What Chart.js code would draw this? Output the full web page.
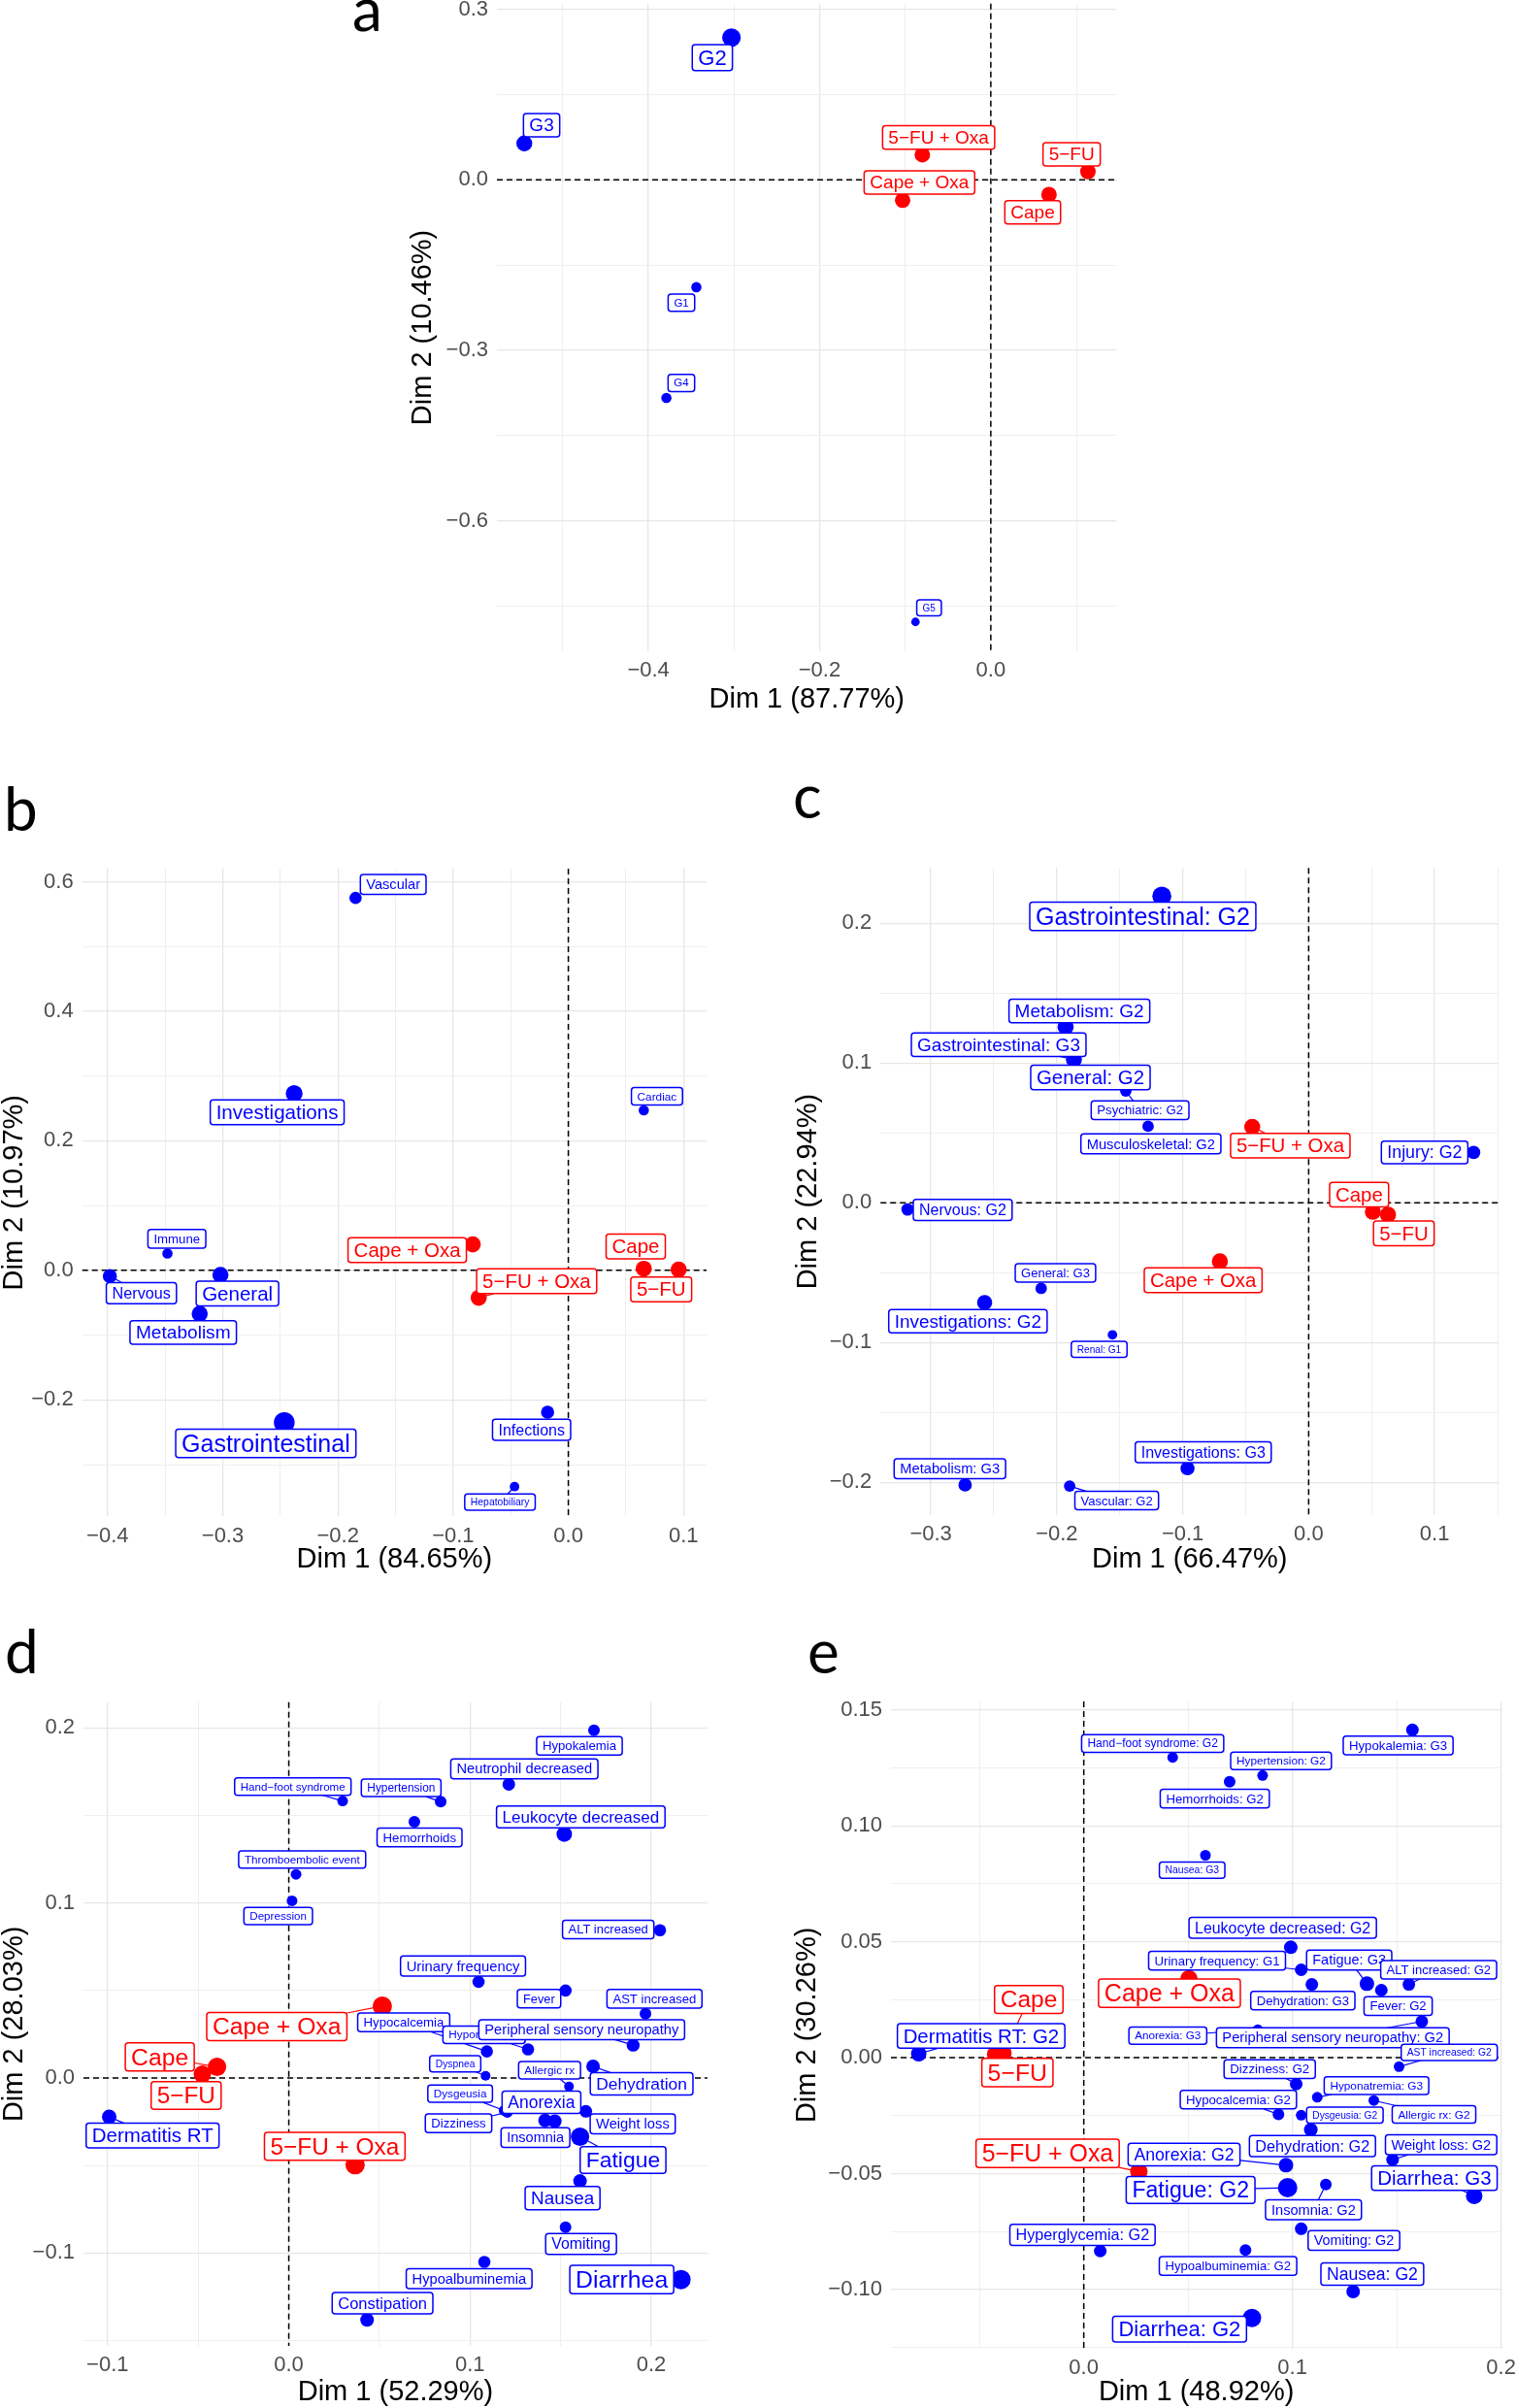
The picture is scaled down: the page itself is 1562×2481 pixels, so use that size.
<!DOCTYPE html>
<html>
<head>
<meta charset="utf-8">
<title>CA biplots</title>
<script src="https://cdn.jsdelivr.net/npm/chart.js@4.4.1/dist/chart.umd.min.js"></script>
<style>
  html, body { margin: 0; padding: 0; background: #fff; }
  body { position: relative; width: 1562px; height: 2481px; overflow: hidden; }
  canvas { position: absolute; }
</style>
</head>
<body>
<canvas id="tags" width="1562" height="2481" style="left:0;top:0"></canvas>
<script>
const FONT = '"Liberation Sans", Arial, sans-serif';
const BLUE = '#0000ff';
const RED = '#ff0000';

// ---------- panel a : grades ----------
const aRowNames = ['G2', 'G3', 'G1', 'G4', 'G5'];
const aRowDim1 = [-0.303, -0.545, -0.344, -0.379, -0.088];
const aRowDim2 = [0.250, 0.064, -0.189, -0.384, -0.778];
const aColNames = ['Cape', '5−FU', 'Cape + Oxa', '5−FU + Oxa'];
const aColDim1 = [0.068, 0.1135, -0.103, -0.080];
const aColDim2 = [-0.026, 0.0144, -0.036, 0.044];
const aXTicks = [-0.4, -0.2, 0.0];
const aXMinor = [-0.5, -0.3, -0.1, 0.1];
const aYTicks = [0.3, 0.0, -0.3, -0.6];
const aYMinor = [0.15, -0.15, -0.45, -0.75];

// ---------- panel b : system organ class ----------
const bRowNames = ['Vascular', 'Investigations', 'Cardiac', 'Immune', 'Nervous', 'General',
  'Metabolism', 'Gastrointestinal', 'Infections', 'Hepatobiliary'];
const bRowDim1 = [-0.1847, -0.238, 0.0655, -0.348, -0.398, -0.302, -0.320, -0.2466, -0.018, -0.0467];
const bRowDim2 = [0.575, 0.273, 0.247, 0.026, -0.009, -0.007, -0.067, -0.235, -0.219, -0.334];
const bColNames = ['Cape', '5−FU', 'Cape + Oxa', '5−FU + Oxa'];
const bColDim1 = [0.0655, 0.0958, -0.083, -0.0778];
const bColDim2 = [0.0024, 0.001, 0.040, -0.0425];
const bXTicks = [-0.4, -0.3, -0.2, -0.1, 0.0, 0.1];
const bXMinor = [-0.35, -0.25, -0.15, -0.05, 0.05];
const bYTicks = [0.6, 0.4, 0.2, 0.0, -0.2];
const bYMinor = [0.5, 0.3, 0.1, -0.1, -0.3];

// ---------- panel c : organ class by grade ----------
const cRowNames = ['Gastrointestinal: G2', 'Metabolism: G2', 'Gastrointestinal: G3', 'General: G2',
  'Psychiatric: G2', 'Musculoskeletal: G2', 'Nervous: G2', 'General: G3', 'Investigations: G2',
  'Renal: G1', 'Investigations: G3', 'Metabolism: G3', 'Vascular: G2', 'Injury: G2'];
const cRowDim1 = [-0.1166, -0.193, -0.1864, -0.1679, -0.1452, -0.1275, -0.3185, -0.2124, -0.2573,
  -0.1558, -0.0962, -0.2728, -0.1898, 0.131];
const cRowDim2 = [0.2194, 0.1257, 0.1026, 0.0907, 0.080, 0.0547, -0.0048, -0.0613, -0.0714,
  -0.0945, -0.190, -0.2019, -0.2027, 0.036];
const cColNames = ['Cape', '5−FU', 'Cape + Oxa', '5−FU + Oxa'];
const cColDim1 = [0.051, 0.063, -0.0705, -0.0448];
const cColDim2 = [-0.0065, -0.0085, -0.042, 0.0543];
const cXTicks = [-0.3, -0.2, -0.1, 0.0, 0.1];
const cXMinor = [-0.25, -0.15, -0.05, 0.05, 0.15];
const cYTicks = [0.2, 0.1, 0.0, -0.1, -0.2];
const cYMinor = [0.15, 0.05, -0.05, -0.15];

// ---------- panel d : adverse events ----------
const dRowNames = ['Hand−foot syndrome', 'Thromboembolic event', 'Depression', 'Dermatitis RT',
  'Constipation', 'Hypokalemia', 'Neutrophil decreased', 'Hypertension', 'Hemorrhoids',
  'Leukocyte decreased', 'ALT increased', 'Urinary frequency', 'Fever', 'AST increased',
  'Hypocalcemia', 'Hyponatremia', 'Peripheral sensory neuropathy', 'Dyspnea', 'Allergic rx',
  'Dehydration', 'Dysgeusia', 'Dizziness', 'Anorexia', 'Insomnia', 'Weight loss', 'Fatigue',
  'Nausea', 'Vomiting', 'Hypoalbuminemia', 'Diarrhea'];
const dRowDim1 = [0.0297, 0.0040, 0.0018, -0.0991, 0.0432, 0.1684, 0.1214, 0.0838, 0.0693,
  0.152, 0.2048, 0.1047, 0.1527, 0.1968, 0.1093, 0.1320, 0.1900, 0.1086, 0.1546, 0.1679,
  0.1188, 0.1206, 0.1414, 0.1468, 0.1639, 0.1607, 0.1607, 0.1527, 0.1079, 0.2164];
const dRowDim2 = [0.1583, 0.1164, 0.1013, -0.0221, -0.1382, 0.1987, 0.1678, 0.1579, 0.1464,
  0.1394, 0.0845, 0.055, 0.050, 0.0368, 0.0152, 0.0164, 0.0188, 0.0013, -0.0048, 0.0067,
  -0.0185, -0.0196, -0.0242, -0.0246, -0.019, -0.0335, -0.0588, -0.0852, -0.105, -0.1151];
const dColNames = ['Cape', '5−FU', 'Cape + Oxa', '5−FU + Oxa'];
const dColDim1 = [-0.0396, -0.0477, 0.0516, 0.0366];
const dColDim2 = [0.0064, 0.0022, 0.0411, -0.0495];
const dXTicks = [-0.1, 0.0, 0.1, 0.2];
const dXMinor = [-0.05, 0.05, 0.15];
const dYTicks = [0.2, 0.1, 0.0, -0.1];
const dYMinor = [0.15, 0.05, -0.05, -0.15];

// ---------- panel e : adverse events by grade ----------
const eRowNames = ['Hand−foot syndrome: G2', 'Hypertension: G2', 'Hemorrhoids: G2', 'Hypokalemia: G3',
  'Nausea: G3', 'Leukocyte decreased: G2', 'Urinary frequency: G1', 'Fatigue: G3', 'Dehydration: G3',
  'ALT increased: G2', 'Fever: G2', 'Anorexia: G3', 'Peripheral sensory neuropathy: G2',
  'AST increased: G2', 'Dizziness: G2', 'Hyponatremia: G3', 'Hypocalcemia: G2', 'Allergic rx: G2',
  'Dysgeusia: G2', 'Dehydration: G2', 'Weight loss: G2', 'Anorexia: G2', 'Fatigue: G2',
  'Diarrhea: G3', 'Insomnia: G2', 'Vomiting: G2', 'Hypoalbuminemia: G2', 'Nausea: G2',
  'Diarrhea: G2', 'Hyperglycemia: G2', 'Dermatitis RT: G2'];
const eRowDim1 = [0.0426, 0.0857, 0.0699, 0.1575, 0.0583, 0.0992, 0.1042, 0.1357, 0.1093,
  0.1558, 0.1426, 0.0834, 0.162, 0.1511, 0.1018, 0.1119, 0.0933, 0.139, 0.1042, 0.1088,
  0.148, 0.0969, 0.0977, 0.1871, 0.116, 0.1042, 0.0775, 0.1291, 0.0806, 0.0079, -0.0791];
const eRowDim2 = [0.1295, 0.1217, 0.119, 0.1414, 0.0873, 0.0476, 0.0379, 0.0319, 0.0316,
  0.0316, 0.0291, 0.012, 0.0156, -0.0039, -0.0114, -0.0171, -0.0245, -0.0185, -0.0248, -0.0311,
  -0.044, -0.0464, -0.0561, -0.0596, -0.0547, -0.0738, -0.083, -0.1009, -0.1123, -0.0834, 0.0017];
const eColNames = ['Cape', '5−FU', 'Cape + Oxa', '5−FU + Oxa'];
const eColDim1 = [-0.0385, -0.0425, 0.0504, 0.0264];
const eColDim2 = [0.002, 0.0015, 0.034, -0.0491];
const eXTicks = [0.0, 0.1, 0.2];
const eXMinor = [-0.05, 0.05, 0.15];
const eYTicks = [0.15, 0.10, 0.05, 0.0, -0.05, -0.10];
const eYMinor = [0.125, 0.075, 0.025, -0.025, -0.075, -0.125];

// ---------- styling: point radius, label font size, label nudge (px) ----------
const aRowStyle = { r: [9.6, 8.2, 5.3, 5.3, 4.4], f: [22, 19, 11.5, 11.5, 10],
  nudge: [[-19.7, 20.6], [17.8, -18.7], [-15.4, 15.9], [15.4, -15.5], [14, -14.5]] };
const aColStyle = { r: [8, 8, 8, 8], f: [19, 19, 19, 19],
  nudge: [[-16.8, 18.3], [-16.8, -17.8], [17.3, -18.3], [16.8, -17.8]] };

const bRowStyle = { r: [6.3, 8.7, 5.3, 5.3, 7.3, 8.3, 8.3, 10.7, 6.8, 4.9],
  f: [14.6, 20.6, 11.8, 13.2, 16.2, 20.5, 19.1, 25, 16, 10.4],
  nudge: [[38.8, -13.9], [-17.5, 19.3], [13.6, -14.4], [9.7, -15], [32.5, 17.6], [17.5, 19.3],
    [-17, 19.3], [-19, 21.4], [-16.5, 18.2], [-15, 16]] };
const bColStyle = { r: [8.3, 8.3, 8.3, 8.3], f: [20.5, 20.5, 20.5, 20.5],
  nudge: [[-8.3, -23], [-18, 20.3], [-67.5, 5.9], [59.7, -17.1]] };

const cRowStyle = { r: [9.8, 8.3, 8.3, 8, 5.9, 5.9, 6.4, 5.9, 7.8, 4.9, 7.3, 6.9, 5.9, 6.9],
  f: [25, 19, 19, 20.4, 13.2, 14.7, 16, 13, 18.9, 10.1, 16, 14.7, 13, 17.8],
  nudge: [[-19.6, 20.9], [14.2, -16.6], [-77.5, -15], [-7, 1.6], [14.7, 19.8], [2.9, 18.2],
    [56.8, 0.5], [14.7, -16], [-17.2, 19.3], [-13.7, 15], [16.2, -16.6], [-15.7, -16.6],
    [48.5, 15], [-50.5, 0]] };
const cColStyle = { r: [8.3, 8.3, 8.3, 8.3], f: [20.4, 20.4, 20.4, 20.4],
  nudge: [[-14.2, -17.6], [16.3, 19.3], [-17.2, 19.3], [39.2, 19.3]] };

const dRowStyle = {
  r: [5.5, 5.5, 5.5, 7.5, 7, 6, 6.5, 6, 6, 8, 6.3, 6.3, 6.3, 6, 6.3, 6.3, 6.7, 5, 5, 7,
    5.5, 5.5, 7, 7, 6.5, 9.5, 7, 6, 6.3, 10],
  f: [11.6, 11.7, 11.6, 20.5, 16.5, 13.2, 14.7, 11.9, 13.2, 17, 12.9, 14.8, 12.8, 13.1, 13.2,
    11.7, 14.7, 10.3, 11.8, 17.4, 11.7, 13.2, 17.5, 14.5, 14.7, 22.9, 18.9, 15.9, 14.7, 24.8],
  nudge: [[-51.3, -14.8], [6.3, -15.3], [-14.3, 15.8], [44.7, 19.4], [15.9, -17.3], [-15, 16],
    [16, -16], [-40.7, -14.3], [5.3, 16], [17, -17.7], [-53.3, -0.7], [-16, -16.3], [-27.3, 8.3],
    [9.3, -15.3], [-85.7, -30], [-45.3, -15], [-53, -16], [-31.3, -12.3], [-20, -16.7], [50, 18],
    [-45.3, -17.3], [-50.3, 11.3], [-3.7, -18.7], [-20, 17], [48.3, 13], [44.3, 24], [-18, 17.7],
    [16, 17.3], [-15.7, 17.3], [-61, 0]] };
const dColStyle = { r: [9.5, 9, 10, 10], f: [24.7, 24.3, 24.7, 24.4],
  nudge: [[-59, -10.2], [-16.7, 21.9], [-108.7, 21], [-21, -19]] };

const eRowStyle = {
  r: [5.5, 5.5, 6, 6.5, 5.5, 7, 6.5, 7.5, 6.5, 6.5, 6.5, 5.5, 6.5, 5.5, 6.5, 5.5, 6, 5.5,
    5.5, 7, 6.5, 7.5, 10, 8.5, 6, 6.5, 6, 7, 9.5, 6.5, 8],
  f: [12, 11.8, 13.2, 13.2, 10.4, 15.9, 13.2, 14.5, 13.1, 13, 13.1, 11.7, 14.7, 10.3, 13.3,
    11.8, 13.2, 11.8, 10.2, 16.2, 14.6, 17.7, 23.1, 20.5, 14.6, 14.4, 13.1, 17.6, 22, 16.2, 20.4],
  nudge: [[-20.6, -14.4], [19, -15], [-15.3, 17.3], [-14.7, 16], [-13.7, 15.3], [-8.3, -20],
    [-86.7, -9.3], [-18.3, -24.3], [-9.3, 16.7], [30.7, -15], [17.3, 16.3], [-92.7, 6],
    [-91.7, 16.7], [51.7, -14.7], [-27.3, -15.3], [61, -12], [-41.3, -15.3], [62, 14.3],
    [45, 0], [1.7, 16.7], [50, -15.3], [-105, -11], [-100, 2.3], [-41, -18.3], [-12.7, 26],
    [54.3, 12], [-18, 16.3], [19.7, -18], [-74.6, 11.5], [-18.3, -16.7], [64.3, -18.3]] };
const eColStyle = { r: [8.5, 8.5, 9, 9], f: [24.5, 24.8, 25, 24.9],
  nudge: [[26.1, -55.2], [23, 18.9], [-20.1, 14.7], [-94, -18.7]] };

// ---------- helpers ----------
function fmt(v, d) {
  if (Math.abs(v) < 1e-9) v = 0;
  return (v < 0 ? '\u2212' : '') + Math.abs(v).toFixed(d);
}

function pts(xs, ys) {
  return xs.map((x, i) => ({ x: x, y: ys[i] }));
}

const zeroLines = {
  id: 'zeroLines',
  beforeDatasetsDraw(chart) {
    const { ctx, chartArea: a, scales } = chart;
    const px = scales.x.getPixelForValue(0);
    const py = scales.y.getPixelForValue(0);
    ctx.save();
    ctx.strokeStyle = '#000';
    ctx.lineWidth = 1.5;
    ctx.setLineDash([6, 4]);
    ctx.beginPath();
    ctx.moveTo(px, a.top); ctx.lineTo(px, a.bottom);
    ctx.moveTo(a.left, py); ctx.lineTo(a.right, py);
    ctx.stroke();
    ctx.restore();
  }
};

// boxed labels with a leader segment when the label sits away from its point
const repelLabels = {
  id: 'repelLabels',
  afterDatasetsDraw(chart) {
    const ctx = chart.ctx;
    const boxes = [];
    chart.data.datasets.forEach((ds, di) => {
      const meta = chart.getDatasetMeta(di);
      ds.tags.forEach((txt, i) => {
        const el = meta.data[i];
        const f = ds.tagSize[i];
        ctx.font = f + 'px ' + FONT;
        const w = ctx.measureText(txt).width + 12;
        const h = 0.85 * f + 8;
        boxes.push({ txt, f, w, h, px: el.x, py: el.y, r: ds.pointRadius[i],
          cx: el.x + ds.tagShift[i][0], cy: el.y + ds.tagShift[i][1],
          color: ds.backgroundColor, layer: ds.layer });
      });
    });
    boxes.sort((p, q) => p.layer - q.layer);

    ctx.save();
    ctx.lineWidth = 1.2;
    boxes.forEach(b => {
      const dx = b.px - b.cx, dy = b.py - b.cy;
      const t = Math.min(dx ? (b.w / 2) / Math.abs(dx) : Infinity, dy ? (b.h / 2) / Math.abs(dy) : Infinity);
      if (t >= 1) return;
      const len = Math.hypot(dx, dy) * (1 - t);
      if (len - b.r < 5) return;
      ctx.strokeStyle = b.color;
      ctx.beginPath();
      ctx.moveTo(b.cx + dx * t, b.cy + dy * t);
      ctx.lineTo(b.px, b.py);
      ctx.stroke();
    });

    boxes.forEach(b => {
      const x0 = b.cx - b.w / 2, y0 = b.cy - b.h / 2;
      ctx.beginPath();
      ctx.roundRect(x0, y0, b.w, b.h, 3);
      ctx.fillStyle = '#fff';
      ctx.fill();
      ctx.lineWidth = 1.5;
      ctx.strokeStyle = b.color;
      ctx.stroke();
      ctx.fillStyle = b.color;
      ctx.font = b.f + 'px ' + FONT;
      ctx.textAlign = 'center';
      ctx.textBaseline = 'alphabetic';
      ctx.fillText(b.txt, b.cx, b.cy + 0.34 * b.f);
    });
    ctx.restore();
  }
};

function axis(dir, min, max, major, minor, dec, title, fit, titlePad, tickPad) {
  const all = major.concat(minor).filter(v => v >= min - 1e-9 && v <= max + 1e-9).sort((p, q) => p - q);
  const isMajor = v => major.some(m => Math.abs(m - v) < 1e-9);
  return {
    type: 'linear', min: min, max: max,
    afterBuildTicks: s => { s.ticks = all.map(v => ({ value: v })); },
    afterFit: s => { if (dir === 'x') s.height = fit; else s.width = fit; },
    grid: {
      drawTicks: false,
      color: c => (c.tick && isMajor(c.tick.value)) ? '#e6e6e6' : '#efefef',
      lineWidth: c => (c.tick && isMajor(c.tick.value)) ? 1.3 : 1
    },
    border: { display: false },
    ticks: {
      autoSkip: false, maxRotation: 0, minRotation: 0, padding: tickPad,
      color: '#4d4d4d', font: { family: FONT, size: 22 },
      callback: v => isMajor(v) ? fmt(v, dec) : ''
    },
    title: {
      display: true, text: title, color: '#000',
      font: { family: FONT, size: 29, lineHeight: 1 },
      padding: dir === 'x' ? { top: 0, bottom: 0 } : { top: titlePad, bottom: 0 }
    }
  };
}

function buildPanel(p) {
  const g = p.frame;
  // leave room above and to the right so tick-label overflow never squeezes the plot area
  const left = Math.round(Math.max(0, g.yTitleX - 14.5));
  const top = Math.round(g.top - 26);
  const width = Math.round(g.right + 34 - left);
  const height = Math.round(g.xTitleY + 14.5 - top);
  const cv = document.createElement('canvas');
  cv.width = width; cv.height = height;
  cv.style.left = left + 'px'; cv.style.top = top + 'px';
  document.body.appendChild(cv);

  new Chart(cv, {
    type: 'scatter',
    data: {
      datasets: [
        { data: pts(p.colX, p.colY), pointRadius: p.colStyle.r, backgroundColor: RED, borderWidth: 0,
          clip: false, tags: p.colNames, tagSize: p.colStyle.f, tagShift: p.colStyle.nudge, layer: 1 },
        { data: pts(p.rowX, p.rowY), pointRadius: p.rowStyle.r, backgroundColor: BLUE, borderWidth: 0,
          clip: false, tags: p.rowNames, tagSize: p.rowStyle.f, tagShift: p.rowStyle.nudge, layer: 0 }
      ]
    },
    options: {
      responsive: false, animation: false, events: [],
      layout: { autoPadding: false,
        padding: { top: g.top - top, right: width - (g.right - left), left: 0, bottom: 0 } },
      plugins: { legend: { display: false }, tooltip: { enabled: false } },
      scales: {
        x: axis('x', p.xRange[0], p.xRange[1], p.xTicks, p.xMinor, p.xDec, p.xTitle,
          height - (g.bottom - top), 0, 7),
        y: axis('y', p.yRange[0], p.yRange[1], p.yTicks, p.yMinor, p.yDec, p.yTitle,
          g.left - left, Math.max(0, g.yTitleX - 14.5 - left), 9)
      }
    },
    plugins: [zeroLines, repelLabels]
  });
}

buildPanel({
  rowNames: aRowNames, rowX: aRowDim1, rowY: aRowDim2, rowStyle: aRowStyle,
  colNames: aColNames, colX: aColDim1, colY: aColDim2, colStyle: aColStyle,
  xTicks: aXTicks, xMinor: aXMinor, yTicks: aYTicks, yMinor: aYMinor, xDec: 1, yDec: 1,
  xRange: [-0.577, 0.147], yRange: [-0.83, 0.31],
  xTitle: 'Dim 1 (87.77%)', yTitle: 'Dim 2 (10.46%)',
  frame: { left: 512, right: 1150.5, top: 3.7, bottom: 671.2, yTitleX: 435, xTitleY: 720 }
});

buildPanel({
  rowNames: bRowNames, rowX: bRowDim1, rowY: bRowDim2, rowStyle: bRowStyle,
  colNames: bColNames, colX: bColDim1, colY: bColDim2, colStyle: bColStyle,
  xTicks: bXTicks, xMinor: bXMinor, yTicks: bYTicks, yMinor: bYMinor, xDec: 1, yDec: 1,
  xRange: [-0.422, 0.120], yRange: [-0.380, 0.620],
  xTitle: 'Dim 1 (84.65%)', yTitle: 'Dim 2 (10.97%)',
  frame: { left: 84.7, right: 728, top: 895.1, bottom: 1562.4, yTitleX: 13, xTitleY: 1606 }
});

buildPanel({
  rowNames: cRowNames, rowX: cRowDim1, rowY: cRowDim2, rowStyle: cRowStyle,
  colNames: cColNames, colX: cColDim1, colY: cColDim2, colStyle: cColStyle,
  xTicks: cXTicks, xMinor: cXMinor, yTicks: cYTicks, yMinor: cYMinor, xDec: 1, yDec: 1,
  xRange: [-0.340, 0.151], yRange: [-0.2234, 0.2395],
  xTitle: 'Dim 1 (66.47%)', yTitle: 'Dim 2 (22.94%)',
  frame: { left: 907.2, right: 1544.3, top: 894.3, bottom: 1560.9, yTitleX: 832, xTitleY: 1606 }
});

buildPanel({
  rowNames: dRowNames, rowX: dRowDim1, rowY: dRowDim2, rowStyle: dRowStyle,
  colNames: dColNames, colX: dColDim1, colY: dColDim2, colStyle: dColStyle,
  xTicks: dXTicks, xMinor: dXMinor, yTicks: dYTicks, yMinor: dYMinor, xDec: 1, yDec: 1,
  xRange: [-0.1133, 0.231], yRange: [-0.153, 0.2148],
  xTitle: 'Dim 1 (52.29%)', yTitle: 'Dim 2 (28.03%)',
  frame: { left: 86, right: 728.9, top: 1753.7, bottom: 2417, yTitleX: 13, xTitleY: 2464 }
});

buildPanel({
  rowNames: eRowNames, rowX: eRowDim1, rowY: eRowDim2, rowStyle: eRowStyle,
  colNames: eColNames, colX: eColDim1, colY: eColDim2, colStyle: eColStyle,
  xTicks: eXTicks, xMinor: eXMinor, yTicks: eYTicks, yMinor: eYMinor, xDec: 1, yDec: 2,
  xRange: [-0.0924, 0.2003], yRange: [-0.1255, 0.1537],
  xTitle: 'Dim 1 (48.92%)', yTitle: 'Dim 2 (30.26%)',
  frame: { left: 918, right: 1547.3, top: 1752.9, bottom: 2419.8, yTitleX: 831, xTitleY: 2464 }
});

// panel letters
const tg = document.getElementById('tags').getContext('2d');
tg.fillStyle = '#000';
tg.font = '62px Lato, "Liberation Sans", sans-serif';
[['a', 363, 32], ['b', 4, 856], ['c', 817, 843], ['d', 5, 1724], ['e', 832, 1724]].forEach(t => {
  tg.fillText(t[0], t[1], t[2]);
});
</script>
</body>
</html>
